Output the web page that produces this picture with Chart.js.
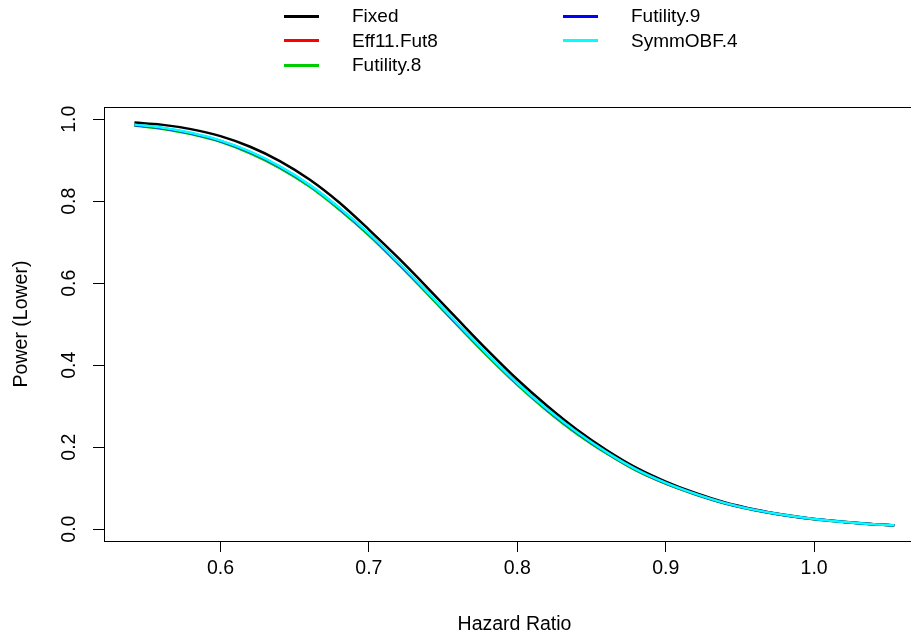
<!DOCTYPE html>
<html lang="en">
<head>
    <meta charset="UTF-8">
    <title>Power (Lower) vs Hazard Ratio</title>
    <script src="https://cdn.jsdelivr.net/npm/chart.js"></script>
    <style>
        body {
            margin: 0;
            background: #fff;
            overflow: hidden;
            font-family: "Liberation Sans", Arial, sans-serif;
        }
        .wrap {
            position: relative;
            width: 940px;
            height: 636px;
        }
        .legend {
            position: absolute;
            top: 0;
            left: 0;
        }
        .legend .item {
            position: absolute;
            height: 24px;
            display: flex;
            align-items: center;
            font-size: 19px;
            color: #000;
            white-space: nowrap;
        }
        .legend .swatch {
            width: 35px;
            height: 3px;
            margin-right: 33px;
        }
    </style>
</head>
<body>
    <div class="wrap">
        <canvas id="powerChart"></canvas>
        <div class="legend" id="legend"></div>
    </div>

    <script>
        // hazard ratio grid and power curves per design
        const hazardRatio = [0.542, 0.56, 0.58, 0.60, 0.62, 0.64, 0.66, 0.68, 0.70, 0.72, 0.74, 0.76, 0.78,
            0.80, 0.82, 0.84, 0.86, 0.88, 0.90, 0.92, 0.94, 0.96, 0.98, 1.00, 1.02, 1.04, 1.054];

        const powerFixed = [0.992, 0.987, 0.976, 0.959, 0.933, 0.898, 0.853, 0.797, 0.731, 0.661, 0.587, 0.511, 0.436,
            0.365, 0.301, 0.243, 0.193, 0.150, 0.116, 0.088, 0.065, 0.048, 0.035, 0.025, 0.018, 0.012, 0.0095];
        const powerEff11Fut8 = [0.986, 0.978, 0.965, 0.946, 0.918, 0.882, 0.837, 0.781, 0.718, 0.647, 0.573, 0.497, 0.423,
            0.353, 0.290, 0.234, 0.186, 0.144, 0.111, 0.085, 0.063, 0.0465, 0.0339, 0.0243, 0.0176, 0.0117, 0.0093];
        const powerFutility8 = [0.985, 0.977, 0.964, 0.945, 0.917, 0.881, 0.836, 0.780, 0.717, 0.646, 0.572, 0.496, 0.422,
            0.352, 0.289, 0.233, 0.185, 0.143, 0.111, 0.0845, 0.0625, 0.0462, 0.0337, 0.0242, 0.0175, 0.0117, 0.0093];
        const powerFutility9 = [0.986, 0.979, 0.966, 0.947, 0.920, 0.884, 0.839, 0.783, 0.720, 0.649, 0.575, 0.499, 0.425,
            0.355, 0.292, 0.236, 0.187, 0.145, 0.112, 0.0855, 0.063, 0.0467, 0.034, 0.0244, 0.0176, 0.0118, 0.0094];
        const powerSymmOBF4 = [0.987, 0.980, 0.967, 0.948, 0.921, 0.885, 0.840, 0.784, 0.721, 0.650, 0.576, 0.500, 0.426,
            0.356, 0.293, 0.237, 0.188, 0.146, 0.113, 0.086, 0.0635, 0.047, 0.0342, 0.0245, 0.0177, 0.0118, 0.0094];

        const seriesNames = ['Fixed', 'Eff11.Fut8', 'Futility.8', 'Futility.9', 'SymmOBF.4'];
        const seriesColors = ['#000000', '#FF0000', '#00CD00', '#0000FF', '#00FFFF'];
        const seriesValues = [powerFixed, powerEff11Fut8, powerFutility8, powerFutility9, powerSymmOBF4];

        const xTicks = [0.6, 0.7, 0.8, 0.9, 1.0];
        const yTicks = [0.0, 0.2, 0.4, 0.6, 0.8, 1.0];

        const FONT = { family: '"Liberation Sans", Arial, sans-serif', size: 19.5 };

        // later series are drawn over earlier ones
        const datasets = seriesNames.map((name, i) => ({
            label: name,
            data: hazardRatio.map((hr, j) => ({ x: hr, y: seriesValues[i][j] })),
            borderColor: seriesColors[i],
            borderWidth: 2.5,
            pointRadius: 0,
            cubicInterpolationMode: 'monotone',
            fill: false,
            order: seriesNames.length - i
        }));

        // full box around the plot region
        const boxPlugin = {
            id: 'box',
            afterDraw(chart) {
                const { ctx, chartArea: a } = chart;
                ctx.save();
                ctx.strokeStyle = '#000';
                ctx.lineWidth = 1;
                ctx.strokeRect(Math.round(a.left) + 0.5, Math.round(a.top) + 0.5,
                    Math.round(a.right - a.left), Math.round(a.bottom - a.top));
                ctx.restore();
            }
        };

        const ctx = document.getElementById('powerChart').getContext('2d');
        new Chart(ctx, {
            type: 'line',
            data: { datasets },
            options: {
                responsive: true,
                maintainAspectRatio: false,
                animation: false,
                layout: { padding: { left: 0, top: 107, right: 15, bottom: 0 } },
                plugins: {
                    legend: { display: false },
                    tooltip: { enabled: false }
                },
                scales: {
                    x: {
                        type: 'linear',
                        min: 0.5215,
                        max: 1.0747,
                        afterBuildTicks: s => { s.ticks = xTicks.map(v => ({ value: v })); },
                        afterFit: s => { s.height = 95; },
                        grid: { drawOnChartArea: false, tickLength: 11, tickColor: '#000', tickWidth: 1 },
                        border: { display: true, color: '#000', width: 1 },
                        ticks: {
                            color: '#000',
                            font: FONT,
                            padding: 4.5,
                            maxRotation: 0,
                            callback: v => v.toFixed(1)
                        },
                        title: {
                            display: true,
                            text: 'Hazard Ratio',
                            color: '#000',
                            font: FONT,
                            padding: { top: 0, bottom: 0 }
                        }
                    },
                    y: {
                        min: -0.029,
                        max: 1.03,
                        afterBuildTicks: s => { s.ticks = yTicks.map(v => ({ value: v })); },
                        afterFit: s => { s.width = 104; },
                        grid: { drawOnChartArea: false, tickLength: 11, tickColor: '#000', tickWidth: 1 },
                        border: { display: true, color: '#000', width: 1 },
                        ticks: {
                            color: '#000',
                            font: FONT,
                            padding: 9.5,
                            minRotation: 90,
                            maxRotation: 90,
                            crossAlign: 'center',
                            callback: v => v.toFixed(1)
                        },
                        title: {
                            display: true,
                            text: 'Power (Lower)',
                            color: '#000',
                            font: FONT,
                            padding: { top: 10.3, bottom: 0 }
                        }
                    }
                }
            },
            plugins: [boxPlugin]
        });

        // two-column legend above the plot
        const legend = document.getElementById('legend');
        seriesNames.forEach((name, i) => {
            const col = Math.floor(i / 3);
            const row = i % 3;
            const item = document.createElement('div');
            item.className = 'item';
            item.style.left = (284 + col * 279) + 'px';
            item.style.top = (4 + row * 24.5) + 'px';
            const sw = document.createElement('span');
            sw.className = 'swatch';
            sw.style.background = seriesColors[i];
            const label = document.createElement('span');
            label.textContent = name;
            item.appendChild(sw);
            item.appendChild(label);
            legend.appendChild(item);
        });
    </script>
</body>
</html>
